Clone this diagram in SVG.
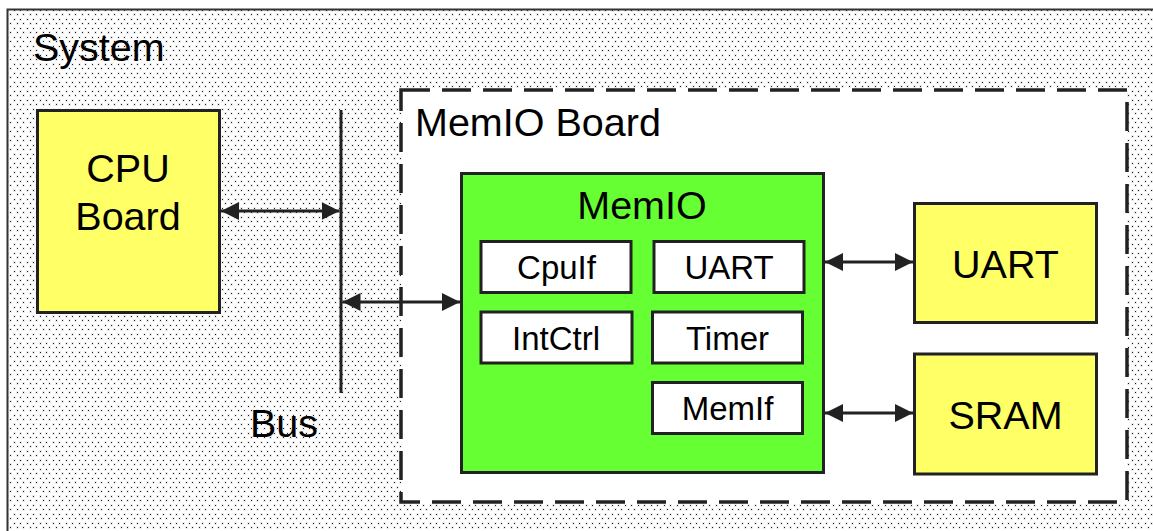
<svg xmlns="http://www.w3.org/2000/svg" width="1153" height="531" viewBox="0 0 1153 531">
  <defs>
    <!-- stippled background of the system area: staggered rows of dots -->
    <pattern id="dots" x="0" y="0" width="13" height="9" patternUnits="userSpaceOnUse">
      <rect width="13" height="9" fill="#ffffff"/>
      <g fill="#ececec">
        <rect x="0" y="0" width="3" height="3"/>
        <rect x="6" y="0" width="3" height="3"/>
        <rect x="3" y="4" width="3" height="3"/>
        <rect x="9" y="4" width="3" height="3"/>
      </g>
      <g fill="#1a1a1a">
        <rect x="1" y="1" width="1" height="1"/>
        <rect x="7" y="1" width="1" height="1"/>
        <rect x="4" y="5" width="1" height="1"/>
        <rect x="10" y="5" width="1" height="1"/>
      </g>
    </pattern>
    <marker id="arrow" viewBox="0 0 18 18" refX="18" refY="9" markerWidth="18" markerHeight="18" markerUnits="userSpaceOnUse" orient="auto-start-reverse">
      <path d="M0,0 L18,9 L0,18 Z" fill="#222222"/>
    </marker>
  </defs>
  <style>
    .label { font-family: "Liberation Sans", Arial, sans-serif; fill: #000000; }
    .big { font-size: 39.5px; }
    .small { font-size: 33px; }
    .mid { text-anchor: middle; }
    .block { stroke: #222222; stroke-width: 3; }
    .yellow { fill: #ffff66; }
    .green { fill: #66ff33; }
    .white { fill: #ffffff; }
    .link { stroke: #222222; stroke-width: 3; fill: none; marker-start: url(#arrow); marker-end: url(#arrow); }
  </style>

  <rect width="1153" height="531" fill="#ffffff"/>

  <!-- System -->
  <g id="system">
    <rect x="7.5" y="9.5" width="1160" height="540" fill="url(#dots)" stroke="#333333" stroke-width="2"/>
    <text class="label big" x="33" y="61">System</text>
  </g>

  <!-- MemIO Board (dashed) -->
  <g id="memio-board">
    <rect x="401" y="90" width="726" height="412" fill="#ffffff" stroke="#222222" stroke-width="3.5" stroke-dasharray="29 12"/>
    <text class="label big" x="415" y="136">MemIO Board</text>
  </g>

  <!-- CPU Board -->
  <g id="cpu-board">
    <rect class="block yellow" x="37.5" y="110.5" width="182" height="202"/>
    <text class="label big mid" x="128" y="182">CPU</text>
    <text class="label big mid" x="128" y="230">Board</text>
  </g>

  <!-- Bus -->
  <g id="bus">
    <line x1="341" y1="110" x2="341" y2="393" stroke="#222222" stroke-width="3"/>
    <text class="label big mid" x="284" y="437">Bus</text>
  </g>

  <!-- MemIO chip -->
  <g id="memio">
    <rect class="block green" x="461.5" y="173.5" width="362" height="299"/>
    <text class="label big mid" x="642" y="219">MemIO</text>
  </g>

  <g id="memio-cpuif">
    <rect class="block white" x="481" y="241.5" width="150" height="51"/>
    <text class="label small mid" x="556.5" y="279">CpuIf</text>
  </g>

  <g id="memio-uart">
    <rect class="block white" x="654" y="241.5" width="150" height="51"/>
    <text class="label small mid" x="729" y="279">UART</text>
  </g>

  <g id="memio-intctrl">
    <rect class="block white" x="481" y="312" width="151" height="51"/>
    <text class="label small mid" x="556" y="350">IntCtrl</text>
  </g>

  <g id="memio-timer">
    <rect class="block white" x="652.5" y="312" width="150" height="51"/>
    <text class="label small mid" x="727.5" y="350">Timer</text>
  </g>

  <g id="memio-memif">
    <rect class="block white" x="652.5" y="382.5" width="150" height="51"/>
    <text class="label small mid" x="727.5" y="420">MemIf</text>
  </g>

  <!-- External UART -->
  <g id="uart">
    <rect class="block yellow" x="914.5" y="203.5" width="182" height="119"/>
    <text class="label big mid" x="1005.5" y="278">UART</text>
  </g>

  <!-- External SRAM -->
  <g id="sram">
    <rect class="block yellow" x="914.5" y="354" width="182" height="120"/>
    <text class="label big mid" x="1005.5" y="429">SRAM</text>
  </g>

  <!-- Connectors -->
  <g id="connectors">
    <line class="link" x1="221" y1="211" x2="339.5" y2="211"/>
    <line class="link" x1="342.5" y1="302" x2="460" y2="302"/>
    <line class="link" x1="825" y1="262" x2="913" y2="262"/>
    <line class="link" x1="825" y1="413" x2="913" y2="413"/>
  </g>
</svg>
